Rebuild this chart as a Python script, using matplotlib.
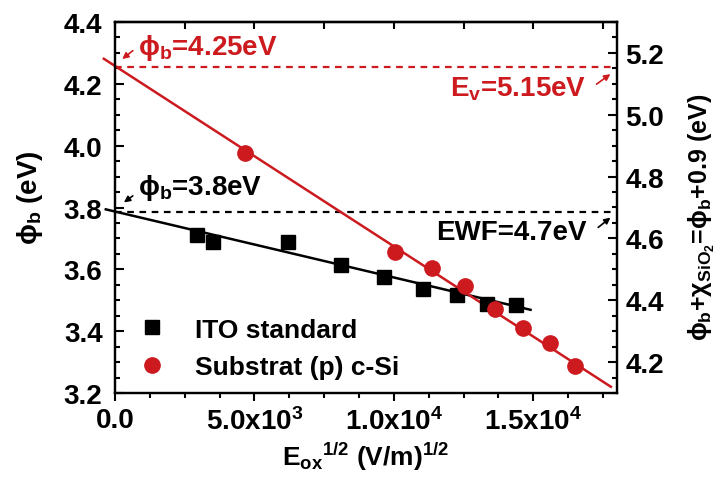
import numpy as np
import matplotlib
matplotlib.use("Agg")
import matplotlib.pyplot as plt
from matplotlib.ticker import MultipleLocator, FixedLocator, FormatStrFormatter

# ---- data ----
ito_x = [2930, 3530, 6220, 8110, 9650, 11040, 12260, 13340, 14380]
ito_y = [3.711, 3.688, 3.690, 3.614, 3.575, 3.537, 3.518, 3.488, 3.485]

si_x = [4665, 10047, 11363, 12558, 13635, 14625, 15583, 16505]
si_y = [3.976, 3.657, 3.604, 3.547, 3.472, 3.411, 3.361, 3.289]

# linear fits (intercept, slope) and the x-range they are drawn over
ito_fit = (3.787, -2.13e-5)
ito_fit_x = [-330, 14900]
si_fit = (4.257, -5.826e-5)
si_fit_x = [-400, 17780]

phi_ito = 3.787    # phi_b = 3.8 eV  -> EWF = 4.7 eV
phi_si = 4.255     # phi_b = 4.25 eV -> Ev = 5.15 eV
chi_sio2 = 0.9

xticks = [0, 5000, 10000, 15000]
xticklabels = ["0.0", "5.0x10$^3$", "1.0x10$^4$", "1.5x10$^4$"]

RED = "#CC1A1F"

plt.rcParams["font.family"] = ["Liberation Sans", "DejaVu Sans"]
plt.rcParams["font.weight"] = "bold"
plt.rcParams["mathtext.default"] = "regular"
plt.rcParams["axes.linewidth"] = 1.6

fig = plt.figure(figsize=(7.28, 4.85), dpi=100)
ax = fig.add_axes([115 / 728, 1 - 394.3 / 485, 502 / 728, 371.6 / 485])

ax.set_xlim(0, 18000)
ax.set_ylim(3.2, 4.4)

# dashed reference levels
ax.plot([0, 18000], [phi_si, phi_si], ls=(0, (3, 2.5)), color=RED, lw=1.6)
ax.plot([0, 18000], [phi_ito, phi_ito], ls=(0, (3, 2.5)), color="black", lw=1.6)

# fitted lines
fx = np.array(ito_fit_x)
ax.plot(fx, ito_fit[0] + ito_fit[1] * fx, color="black", lw=1.8, clip_on=False)
fx = np.array(si_fit_x)
ax.plot(fx, si_fit[0] + si_fit[1] * fx, color=RED, lw=1.8, clip_on=False)

ax.plot(ito_x, ito_y, "s", color="black", ms=9.5, label="ITO standard", zorder=4)
ax.plot(si_x, si_y, "o", color=RED, ms=11, label="Substrat (p) c-Si", zorder=5)

# annotations
ann_fs = 20
ax.text(825, 4.295, "ϕ$_b$=4.25eV", color=RED, fontsize=ann_fs, fontweight="bold",
        ha="left", va="baseline")
ax.annotate("", xy=(180, 4.274), xytext=(718, 4.312),
            arrowprops=dict(arrowstyle="-|>", color=RED, lw=1.2, mutation_scale=9))
ax.text(825, 3.8435, "ϕ$_b$=3.8eV", color="black", fontsize=ann_fs, fontweight="bold",
        ha="left", va="baseline")
ax.annotate("", xy=(240, 3.811), xytext=(718, 3.843),
            arrowprops=dict(arrowstyle="-|>", color="black", lw=1.2, mutation_scale=9))
ax.text(16900, 4.161, "E$_v$=5.15eV", color=RED, fontsize=ann_fs, fontweight="bold",
        ha="right", va="baseline")
ax.annotate("", xy=(17843, 4.236), xytext=(17187, 4.193),
            arrowprops=dict(arrowstyle="-|>", color=RED, lw=1.2, mutation_scale=9),
            annotation_clip=False)
ax.text(16900, 3.698, "EWF=4.7eV", color="black", fontsize=ann_fs, fontweight="bold",
        ha="right", va="baseline")
ax.annotate("", xy=(17843, 3.773), xytext=(17248, 3.730),
            arrowprops=dict(arrowstyle="-|>", color="black", lw=1.2, mutation_scale=9),
            annotation_clip=False)

# axes / ticks
ax.set_xticks(xticks)
ax.set_xticklabels(xticklabels)
ax.xaxis.set_minor_locator(MultipleLocator(1250))
ax.yaxis.set_major_locator(MultipleLocator(0.2))
ax.yaxis.set_minor_locator(MultipleLocator(0.05))
ax.yaxis.set_major_formatter(FormatStrFormatter("%.1f"))
ax.tick_params(axis="x", which="major", direction="out", length=6, width=1.5,
               labelsize=20, pad=4)
ax.tick_params(axis="x", which="minor", direction="out", length=3.5, width=1.5)
ax.tick_params(axis="y", which="major", direction="in", length=6.5, width=1.5,
               labelsize=20, pad=9, right=False)
ax.tick_params(axis="y", which="minor", direction="in", length=3.5, width=1.5, right=False)

top = ax.secondary_xaxis("top")
top.xaxis.set_major_locator(MultipleLocator(2500))
top.tick_params(direction="in", length=5, width=1.5, labeltop=False)

ax2 = ax.twinx()
ax2.set_ylim(3.2 + chi_sio2, 4.4 + chi_sio2)
ax2.yaxis.set_major_locator(FixedLocator([4.2, 4.4, 4.6, 4.8, 5.0, 5.2]))
ax2.yaxis.set_minor_locator(MultipleLocator(0.05))
ax2.yaxis.set_major_formatter(FormatStrFormatter("%.1f"))
ax2.tick_params(axis="y", which="major", direction="in", length=6.5, width=1.5,
                labelsize=20, pad=6)
ax2.tick_params(axis="y", which="minor", direction="in", length=3.5, width=1.5)

ax.set_xlabel("E$_{ox}$$^{1/2}$ (V/m)$^{1/2}$", fontsize=19, fontweight="bold")
ax.xaxis.set_label_coords(0.5, -0.125)
ax.set_ylabel("ϕ$_b$ (eV)", fontsize=20, fontweight="bold")
ax.yaxis.set_label_coords(-0.14, 0.53)
ax2.set_ylabel("ϕ$_b$+χ$_{SiO_2}$=ϕ$_b$+0.9 (eV)", fontsize=18, fontweight="bold")
ax2.yaxis.set_label_coords(1.14, 0.476)

leg = ax.legend(loc="lower left", bbox_to_anchor=(0.013, 0.009), frameon=False,
                prop={"weight": "bold", "size": 19},
                handletextpad=0.87, labelspacing=0.52, borderaxespad=0.0,
                handlelength=1.5)

fig.savefig("out.png", dpi=100)
